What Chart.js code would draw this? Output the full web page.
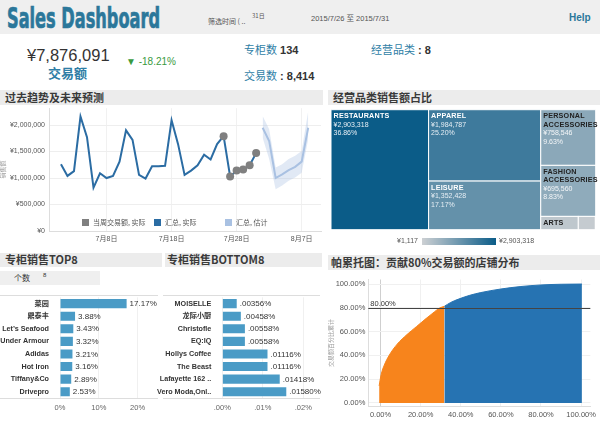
<!DOCTYPE html>
<html>
<head>
<meta charset="utf-8">
<script src="https://cdn.jsdelivr.net/npm/chart.js@4/dist/chart.umd.min.js"></script>
<style>
  body { margin: 0; width: 600px; height: 426px; position: relative; overflow: hidden; background: #fff;
         font-family: "Liberation Sans", "Noto Sans CJK SC", sans-serif; color: #333; }
  .t { position: absolute; white-space: nowrap; line-height: 1; }
  .band { position: absolute; background: #ececec; }
  .head { position: absolute; white-space: nowrap; font-family: "Noto Sans CJK SC", sans-serif; font-weight: bold;
          font-size: 11px; color: #3a3a3a; line-height: 1; }
  .teal { color: #2f7ea6; font-family: "Noto Sans CJK SC", sans-serif; }
  canvas { position: absolute; }
  .sw { position: absolute; width: 7px; height: 7px; }
</style>
</head>
<body>
<!-- header -->
<div class="band" style="left:0;top:0;width:600px;height:34px;background:#efefef"></div>
<div id="title" class="t" style="left:7px;top:4px;font-family:'Liberation Sans Narrow','DejaVu Sans Condensed','Liberation Sans';font-weight:bold;font-size:29px;color:#2b779a;-webkit-text-stroke:0.7px #2b779a;transform-origin:left top">Sales Dashboard</div>
<div class="t" style="left:208px;top:18px;font-size:7px;color:#555;font-family:'Noto Sans CJK SC'">筛选时间 ( ..</div>
<div class="t" style="left:252px;top:13px;font-size:6px;color:#555;font-family:'Noto Sans CJK SC'">31日</div>
<div class="t" style="left:311px;top:14px;font-size:7.5px;color:#555">2015/7/26 <span style="font-family:'Noto Sans CJK SC'">至</span> 2015/7/31</div>
<div class="t" style="left:569px;top:13px;font-size:10px;font-weight:bold;color:#2b779a">Help</div>

<div class="t" style="left:27px;top:47px;font-size:16.5px;color:#333">¥7,876,091</div>
<div class="t teal" style="left:48px;top:66px;font-size:13px;font-weight:bold">交易额</div>
<div class="t" style="left:126px;top:57px;font-size:10px;color:#3a9a40">▼ -18.21%</div>
<div class="t" style="left:244px;top:44px;font-size:11px"><span class="teal">专柜数</span> <b>134</b></div>
<div class="t" style="left:244px;top:70px;font-size:11px"><span class="teal">交易数</span> <b>: 8,414</b></div>
<div class="t" style="left:371px;top:44px;font-size:11px"><span class="teal">经营品类</span> <b>: 8</b></div>

<!-- panel title bars -->
<div class="band" style="left:0;top:90px;width:323px;height:15px"></div>
<div class="head" style="left:5px;top:92px">过去趋势及未来预测</div>
<div class="band" style="left:328px;top:90px;width:272px;height:15px"></div>
<div class="head" style="left:333px;top:92px">经营品类销售额占比</div>
<div class="band" style="left:0;top:253px;width:162px;height:14px"></div>
<div class="head" style="left:5px;top:254px">专柜销售TOP8</div>
<div class="band" style="left:0;top:271px;width:100px;height:14px;background:#efefef"></div>
<div class="t" style="left:14px;top:274px;font-size:8px;font-family:'Noto Sans CJK SC'">个数</div>
<div class="t" style="left:43px;top:272px;font-size:6px">8</div>
<div class="band" style="left:165px;top:253px;width:157px;height:14px"></div>
<div class="head" style="left:167px;top:254px">专柜销售BOTTOM8</div>
<div class="band" style="left:328px;top:255px;width:272px;height:15px"></div>
<div class="head" style="left:331px;top:257px">帕累托图：贡献80%交易额的店铺分布</div>

<!-- charts -->
<canvas id="trend" width="325" height="148" style="left:0;top:100px"></canvas>
<canvas id="tree" width="272" height="127" style="left:328px;top:106px"></canvas>
<div style="position:absolute;left:0;top:295px;width:158px;height:102px;border-top:1px solid #ddd;border-bottom:1px solid #ddd"></div>
<div style="position:absolute;left:163px;top:295px;width:157px;height:102px;border-top:1px solid #ddd;border-bottom:1px solid #ddd"></div>
<canvas id="top8" width="162" height="128" style="left:0;top:290px"></canvas>
<canvas id="bottom8" width="170" height="128" style="left:153px;top:290px"></canvas>
<canvas id="pareto" width="272" height="154" style="left:328px;top:272px"></canvas>

<!-- trend legend -->
<div class="sw" style="left:82px;top:219px;background:#7f7f7f"></div>
<div class="t" style="left:93px;top:219px;font-size:7px;color:#555;font-family:'Noto Sans CJK SC'">当周交易额, 实际</div>
<div class="sw" style="left:154px;top:219px;background:#2b6ca3"></div>
<div class="t" style="left:165px;top:219px;font-size:7px;color:#555;font-family:'Noto Sans CJK SC'">汇总, 实际</div>
<div class="sw" style="left:225px;top:219px;background:#a9c1e2"></div>
<div class="t" style="left:236px;top:219px;font-size:7px;color:#555;font-family:'Noto Sans CJK SC'">汇总, 估计</div>

<!-- treemap colour legend -->
<div class="t" style="left:370px;top:237px;width:48px;text-align:right;font-size:7px;color:#555">¥1,117</div>
<div style="position:absolute;left:422px;top:238px;width:74px;height:7px;background:linear-gradient(to right,rgb(205,208,211),rgb(11,92,136))"></div>
<div class="t" style="left:499px;top:237px;font-size:7px;color:#555">¥2,903,318</div>

<script>
// daily sales, July 2015 (day of month), plus 6 days of the current week
const trendDays = [1, 2, 3, 4, 5, 6, 7, 8, 9, 10, 11, 12, 13, 14, 15, 16, 17, 18, 19, 20, 21, 22, 23, 24, 25, 26, 27, 28, 29, 30, 31];
const trendSales = [1260000, 1040000, 1130000, 2160000, 1770000, 820000, 1090000, 1000000, 1040000, 1310000,
  1900000, 1720000, 1060000, 990000, 1220000, 1220000, 1230000, 2090000, 1640000, 1060000,
  1140000, 1240000, 1440000, 1350000, 1640000, 1790000, 1030000, 1140000, 1160000, 1240000, 1470000];
const weekDays = [26, 27, 28, 29, 30, 31];
const weekSales = [1790000, 1030000, 1140000, 1160000, 1240000, 1470000];
// forecast for Aug 1 - Aug 8 (days counted on from July)
const forecastDays = [32, 33, 34, 35, 36, 37, 38, 39];
const forecastSales = [1950000, 1700000, 1000000, 1070000, 1150000, 1210000, 1310000, 1950000];
const forecastHigh = [2170000, 1920000, 1200000, 1260000, 1360000, 1420000, 1510000, 2260000];
const forecastLow = [1760000, 1360000, 790000, 860000, 950000, 1010000, 1100000, 1730000];
const dayTicks = [8, 18, 28, 38];
const dayTickLabels = ["7月8日", "7月18日", "7月28日", "8月7日"];
const salesTicks = [0, 500000, 1000000, 1500000, 2000000];

// category treemap
const categories = ["RESTAURANTS", "APPAREL", "LEISURE", "PERSONAL ACCESSORIES", "FASHION ACCESSORIES", "ARTS", "HOME", "OTHERS"];
const categorySales = [2903318, 1984787, 1352428, 758546, 695560, 124000, 56335, 1117];
const treeColumns = [[[0]], [[1], [2]], [[3], [4], [5, 6, 7]]];

// top / bottom stores, share of sales in %
const topStores = ["菜园", "鼎泰丰", "Let’s Seafood", "Under Armour", "Adidas", "Hot Iron", "Tiffany&Co", "Drivepro"];
const topShare = [17.17, 3.88, 3.43, 3.32, 3.21, 3.16, 2.89, 2.53];
const bottomStores = ["MOISELLE", "龙际小厨", "Christofle", "EQ:IQ", "Hollys Coffee", "The Beast", "Lafayette 162 ..", "Vero Moda,Onl.."];
const bottomShare = [0.00356, 0.00458, 0.00558, 0.00558, 0.01116, 0.01116, 0.01418, 0.01580];
const shareTicks = [0, 10, 20];
const bottomTicks = [0, 0.01, 0.02];

// pareto: % of stores vs cumulative % of sales
const paretoStoresA = [-0.7, 0.3, 1.9, 4.3, 8.3, 13.2, 18, 22.8, 26.8, 29.3, 31.8];
const paretoSalesA = [14.3, 23.8, 31.9, 40, 49.4, 57.5, 64.3, 71.1, 76.5, 79.7, 81.2];
const paretoStoresB = [31.8, 35, 38.9, 44.5, 50, 60, 70, 80, 90, 100.4];
const paretoSalesB = [81.2, 84.5, 87.3, 90.5, 92.8, 95.8, 97.9, 99.2, 99.8, 100];
const pctTicks = [0, 20, 40, 60, 80, 100];
const paretoTarget = 80;

// fit the title to its width
const title = document.getElementById("title");
title.style.transform = "scaleX(" + (153 / title.getBoundingClientRect().width) + ")";

Chart.defaults.font.family = '"Liberation Sans", "Noto Sans CJK SC", sans-serif';
Chart.defaults.color = "#555";
Chart.defaults.animation = false;
Chart.defaults.responsive = false;
Chart.defaults.devicePixelRatio = 1;
Chart.defaults.plugins.legend.display = false;
Chart.defaults.plugins.tooltip.enabled = false;

const fixSize = (size) => (axis) => {
  if (axis.isHorizontal()) axis.height = size;
  else axis.width = size;
};
const setTicks = (values) => (axis) => {
  axis.ticks = values.map((v) => ({ value: v }));
};
const pts = (xs, ys) => xs.map((x, i) => ({ x: x, y: ys[i] }));

// ---- trend + forecast
new Chart(document.getElementById("trend"), {
  type: "line",
  data: {
    datasets: [
      { data: pts(weekDays, weekSales), showLine: false, pointRadius: 4, pointBackgroundColor: "#808080", pointBorderWidth: 0 },
      { data: pts(trendDays, trendSales), borderColor: "#2b6ca3", borderWidth: 2, pointRadius: 0, tension: 0 },
      { data: pts(forecastDays, forecastSales), borderColor: "#a9c1e2", borderWidth: 2, pointRadius: 0 },
      { data: pts(forecastDays, forecastHigh), borderColor: "transparent", pointRadius: 0, fill: "+1", backgroundColor: "rgba(169,193,226,0.35)" },
      { data: pts(forecastDays, forecastLow), borderColor: "transparent", pointRadius: 0, fill: false },
    ],
  },
  options: {
    layout: { padding: { top: 7, right: 3 } },
    scales: {
      x: {
        type: "linear", min: -0.84, max: 40.97,
        afterBuildTicks: setTicks(dayTicks), afterFit: fixSize(17),
        ticks: { callback: (v, i) => dayTickLabels[i], font: { size: 7 }, maxRotation: 0, autoSkip: false, padding: 4 },
        grid: { color: "#f1f1f1", drawTicks: false }, border: { color: "#ddd" },
      },
      y: {
        min: 0, max: 2318000,
        afterBuildTicks: setTicks(salesTicks), afterFit: fixSize(49),
        ticks: { callback: (v) => "¥" + v.toLocaleString("en-US"), font: { size: 7 }, padding: 4 },
        grid: { color: "#eeeeee", drawTicks: false }, border: { color: "#ddd" },
        title: { display: true, text: "销售额", font: { size: 6 }, color: "#999", padding: 0 },
      },
    },
  },
});

// ---- treemap (slice and dice), drawn on the chart's own scales
const catTotal = categorySales.reduce((a, b) => a + b, 0);
const catMin = Math.min(...categorySales), catMax = Math.max(...categorySales);
const lowRgb = [205, 208, 211], highRgb = [11, 92, 136];
function catColor(v) {
  const t = Math.pow((v - catMin) / (catMax - catMin), 0.8);
  const c = lowRgb.map((l, k) => Math.round(l + (highRgb[k] - l) * t));
  return { css: "rgb(" + c.join(",") + ")", t: t };
}

const treemapPlugin = {
  id: "treemap",
  afterDatasetsDraw(chart) {
    const { ctx, scales } = chart;
    const sx = scales.x, sy = scales.y;
    let x0 = 0;
    treeColumns.forEach((col) => {
      const colSum = col.flat().reduce((a, i) => a + categorySales[i], 0);
      const w = colSum / catTotal * 100;
      let y0 = 100;
      col.forEach((row) => {
        const rowSum = row.reduce((a, i) => a + categorySales[i], 0);
        const h = rowSum / colSum * 100;
        let xx = x0;
        row.forEach((i) => {
          const cw = categorySales[i] / rowSum * w;
          const left = sx.getPixelForValue(xx), right = sx.getPixelForValue(xx + cw);
          const top = sy.getPixelForValue(y0), bottom = sy.getPixelForValue(y0 - h);
          const col = catColor(categorySales[i]);
          ctx.save();
          ctx.fillStyle = col.css;
          ctx.fillRect(left, top, right - left, bottom - top);
          ctx.strokeStyle = "#fff";
          ctx.lineWidth = 1;
          ctx.strokeRect(left, top, right - left, bottom - top);
          if (right - left > 20) {
            ctx.textBaseline = "top";
            ctx.font = "bold 7.2px 'Liberation Sans'";
            ctx.letterSpacing = "0.2px";
            const name = categories[i];
            const lines = ctx.measureText(name).width > right - left - 5 ? name.split(" ") : [name];
            let ty = top + 3;
            ctx.fillStyle = col.t < 0.4 ? "#222" : "#fff";
            lines.forEach((ln) => {
              if (ty + 8 <= bottom) ctx.fillText(ln, left + 2.5, ty);
              ty += 8.5;
            });
            ctx.letterSpacing = "0px";
            ctx.font = "7px 'Liberation Sans'";
            ctx.fillStyle = col.t < 0.4 ? "#f4f6f8" : "#e6eef4";
            const vals = ["¥" + categorySales[i].toLocaleString("en-US"), (categorySales[i] / catTotal * 100).toFixed(2) + "%"];
            vals.forEach((ln) => {
              if (ty + 7 <= bottom) ctx.fillText(ln, left + 2.5, ty);
              ty += 8.5;
            });
          }
          ctx.restore();
          xx += cw;
        });
        y0 -= h;
      });
      x0 += w;
    });
  },
};

new Chart(document.getElementById("tree"), {
  type: "scatter",
  data: { datasets: [{ data: [] }] },
  options: {
    layout: { padding: { left: 3, right: 4.3, top: 3.7, bottom: 3.3 } },
    scales: {
      x: { type: "linear", min: 0, max: 100, display: false },
      y: { type: "linear", min: 0, max: 100, display: false },
    },
  },
  plugins: [treemapPlugin],
});

// ---- horizontal bar charts with value labels
const barLabels = (fmt) => ({
  id: "barLabels",
  afterDatasetsDraw(chart) {
    const { ctx } = chart;
    const meta = chart.getDatasetMeta(0);
    ctx.save();
    ctx.font = "8px 'Liberation Sans'";
    ctx.fillStyle = "#333";
    ctx.textBaseline = "middle";
    meta.data.forEach((bar, i) => {
      ctx.fillText(fmt(chart.data.datasets[0].data[i]), bar.x + 3, bar.y + 0.5);
    });
    ctx.restore();
  },
});

function storeBars(id, stores, shares, max, ticks, tickFmt, valFmt, yWidth) {
  new Chart(document.getElementById(id), {
    type: "bar",
    data: { labels: stores, datasets: [{ data: shares, backgroundColor: "#4a9bc6", barPercentage: 0.72, categoryPercentage: 1 }] },
    options: {
      indexAxis: "y",
      layout: { padding: { top: 5, right: 5 } },
      scales: {
        x: {
          min: 0, max: max,
          afterBuildTicks: setTicks(ticks), afterFit: fixSize(20),
          ticks: { callback: tickFmt, font: { size: 7.5 }, color: "#666", padding: 5 },
          grid: { color: "#f0f0f0", drawTicks: false }, border: { display: false },
        },
        y: {
          afterFit: fixSize(yWidth),
          ticks: { font: { size: 7.2, weight: "bold" }, color: "#333", padding: 3, autoSkip: false },
          grid: { display: false }, border: { display: false },
        },
      },
    },
    plugins: [barLabels(valFmt)],
  });
}

storeBars("top8", topStores, topShare, 25, shareTicks, (v) => v + "%", (v) => v.toFixed(2) + "%", 60);
storeBars("bottom8", bottomStores, bottomShare, 0.02363, bottomTicks,
  (v) => v.toFixed(2).replace(/^0/, "") + "%", (v) => v.toFixed(5).replace(/^0/, "") + "%", 69.3);

// ---- pareto
const targetLine = {
  id: "targetLine",
  afterDatasetsDraw(chart) {
    const { ctx, chartArea } = chart;
    const y = Math.round(chart.scales.y.getPixelForValue(paretoTarget)) + 0.5;
    ctx.save();
    ctx.strokeStyle = "#444";
    ctx.lineWidth = 1;
    ctx.beginPath();
    ctx.moveTo(chartArea.left, y);
    ctx.lineTo(chartArea.right, y);
    ctx.stroke();
    ctx.font = "7.5px 'Liberation Sans'";
    ctx.fillStyle = "#333";
    ctx.textBaseline = "bottom";
    ctx.fillText(paretoTarget.toFixed(2) + "%", chartArea.left + 2, y - 1);
    ctx.restore();
  },
};

new Chart(document.getElementById("pareto"), {
  type: "line",
  data: {
    datasets: [
      { data: pts(paretoStoresA, paretoSalesA), borderColor: "#f7841c", borderWidth: 1, backgroundColor: "#f7841c", fill: "origin", pointRadius: 0, cubicInterpolationMode: "monotone" },
      { data: pts(paretoStoresB, paretoSalesB), borderColor: "#2673b2", borderWidth: 1, backgroundColor: "#2673b2", fill: "origin", pointRadius: 0, cubicInterpolationMode: "monotone" },
    ],
  },
  options: {
    layout: { padding: { top: 2, right: 2 } },
    scales: {
      x: {
        type: "linear", min: -6.1, max: 104.6,
        afterBuildTicks: setTicks(pctTicks), afterFit: fixSize(19.3),
        ticks: { callback: (v) => v.toFixed(2) + "%", font: { size: 7.5 }, color: "#555", padding: 4 },
        grid: { color: (c) => (c.tick && c.tick.value === 0 ? "#cfcfcf" : "#f0f0f0"), drawTicks: false },
        border: { color: "#ddd" },
      },
      y: {
        min: -3.2, max: 103.8,
        afterBuildTicks: setTicks(pctTicks), afterFit: fixSize(40.3),
        ticks: { callback: (v) => v.toFixed(2) + "%", font: { size: 7.5 }, color: "#555", padding: 3 },
        grid: { color: "#f0f0f0", drawTicks: false }, border: { color: "#ddd" },
        title: { display: true, text: "交易额百分比累计", font: { size: 6 }, color: "#999", padding: 0 },
      },
    },
  },
  plugins: [targetLine],
});
</script>
</body>
</html>
